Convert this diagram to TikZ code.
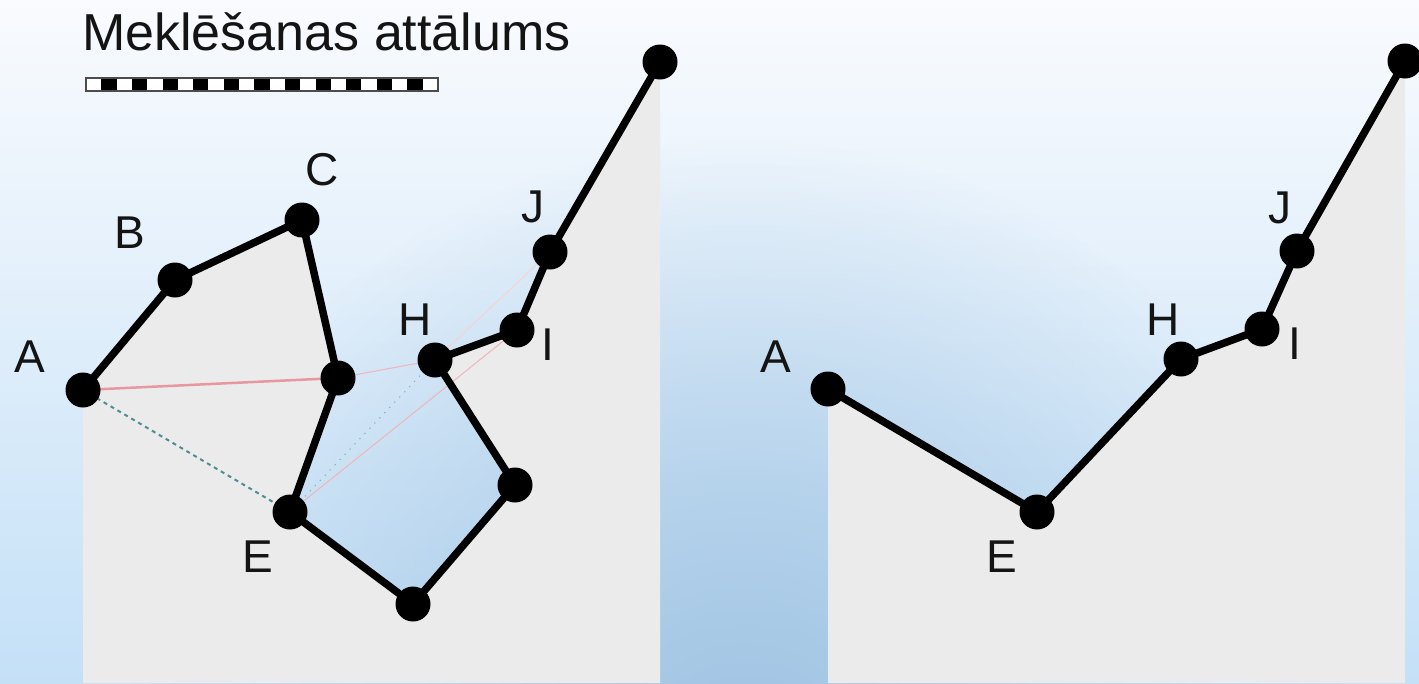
\documentclass[tikz,border=0pt]{standalone}
\usepackage{fontspec}
\setmainfont{Liberation Sans}
\usetikzlibrary{fadings}
\definecolor{bgtop}{RGB}{249,251,254}
\definecolor{bgbot}{RGB}{196,224,247}
\definecolor{bgmid}{RGB}{160,195,226}
\definecolor{panel}{RGB}{235,235,235}
\definecolor{pinkA}{RGB}{232,150,160}
\definecolor{pinkB}{RGB}{240,180,185}
\definecolor{tealD}{RGB}{80,140,150}
\definecolor{txt}{RGB}{20,20,20}
\tikzfading[name=radfade, inner color=transparent!0, outer color=transparent!100]
\tikzset{
  dot/.style={circle, fill=black, inner sep=0pt, minimum size=35pt},
  lab/.style={text=txt, inner sep=0pt, font=\fontsize{46}{50}\selectfont},
  trail/.style={line width=7.5pt, black},
  gray panel/.style={fill=panel},
  dist main/.style={pinkA, line width=2.5pt},
  dist thin/.style={pinkB, line width=1pt},
  dist dash/.style={tealD, line width=2pt, dash pattern=on 4pt off 4pt},
  dist dot/.style={tealD!70, line width=1pt, dash pattern=on 1.2pt off 6pt},
}
\begin{document}
\begin{tikzpicture}[x=1pt, y=-1pt]
\useasboundingbox (0,0) rectangle (1419,683);
% background
\shade[top color=bgtop, bottom color=bgbot] (0,0) rectangle (1419,683);
\begin{scope}
\clip (0,0) rectangle (1419,683);
\fill[bgmid, path fading=radfade] (745,760) circle (620);
\end{scope}

% ---------- left panel coordinates
\coordinate (A) at (83,390);
\coordinate (B) at (175,280);
\coordinate (C) at (302,220);
\coordinate (D) at (338,378);
\coordinate (E) at (290,512);
\coordinate (F) at (413,604);
\coordinate (G) at (515,485);
\coordinate (H) at (435,360);
\coordinate (I) at (517,330);
\coordinate (J) at (550,252);
\coordinate (K) at (660,62);
\coordinate (LBR) at (662,683);
\coordinate (LBL) at (83,683);

\fill[gray panel] (A) -- (B) -- (C) -- (D) -- (E) -- (F) -- (G) -- (H) -- (I) -- (J) -- (K) -- (K |- LBR) -- (LBR) -- (LBL) -- cycle;

% ---------- right panel coordinates
\coordinate (A2) at (828,389);
\coordinate (E2) at (1037,512);
\coordinate (H2) at (1181,359);
\coordinate (I2) at (1262,329);
\coordinate (J2) at (1297,251);
\coordinate (K2) at (1405,61);
\coordinate (RBR) at (1405,683);
\coordinate (RBL) at (828,683);

\fill[gray panel] (A2) -- (E2) -- (H2) -- (I2) -- (J2) -- (K2) -- (RBR) -- (RBL) -- cycle;

% distance lines
\draw[dist main] (A) -- (D);
\draw[dist thin] (D) -- (H);
\draw[dist thin] (E) -- (I);
\draw[dist thin, pinkB!60] (H) -- (J);
\draw[dist dash] (A) -- (E);
\draw[dist dot] (E) -- (H);

% trails
\draw[trail, line join=round] (A) -- (B) -- (C) -- (D) -- (E) -- (F) -- (G) -- (H) -- (I) -- (J) -- (K);
\draw[trail, line join=round] (A2) -- (E2) -- (H2) -- (I2) -- (J2) -- (K2);

% dots
\foreach \p in {A,B,C,D,E,F,G,H,I,J,K,A2,E2,H2,I2,J2,K2}
  \node[dot] (n\p) at (\p) {};

% labels
\node[lab] (lA) at (30,357) {A};
\node[lab] (lB) at (130,233) {B};
\node[lab] (lC) at (322,170) {C};
\node[lab] (lH) at (415,320) {H};
\node[lab] (lJ) at (533,207) {J};
\node[lab] (lI) at (548,345) {I};
\node[lab] (lE) at (258,557) {E};
\node[lab] (lA2) at (776,357) {A};
\node[lab] (lE2) at (1002,557) {E};
\node[lab] (lH2) at (1163,320) {H};
\node[lab] (lJ2) at (1280,208) {J};
\node[lab] (lI2) at (1295,344) {I};

% title
\node[text=txt, inner sep=0pt, anchor=base west, font=\fontsize{52}{56}\selectfont] (title) at (82,50) {Meklēšanas attālums};

% scale bar
\fill[white] (86,78) rectangle (438,91);
\foreach \i in {1,3,...,21}
  \fill[black] ({86+\i*352/23},78) rectangle ({86+(\i+1)*352/23},91);
\draw[black!70, line width=1.5pt] (86,78) rectangle (438,91);
\end{tikzpicture}
\end{document}
